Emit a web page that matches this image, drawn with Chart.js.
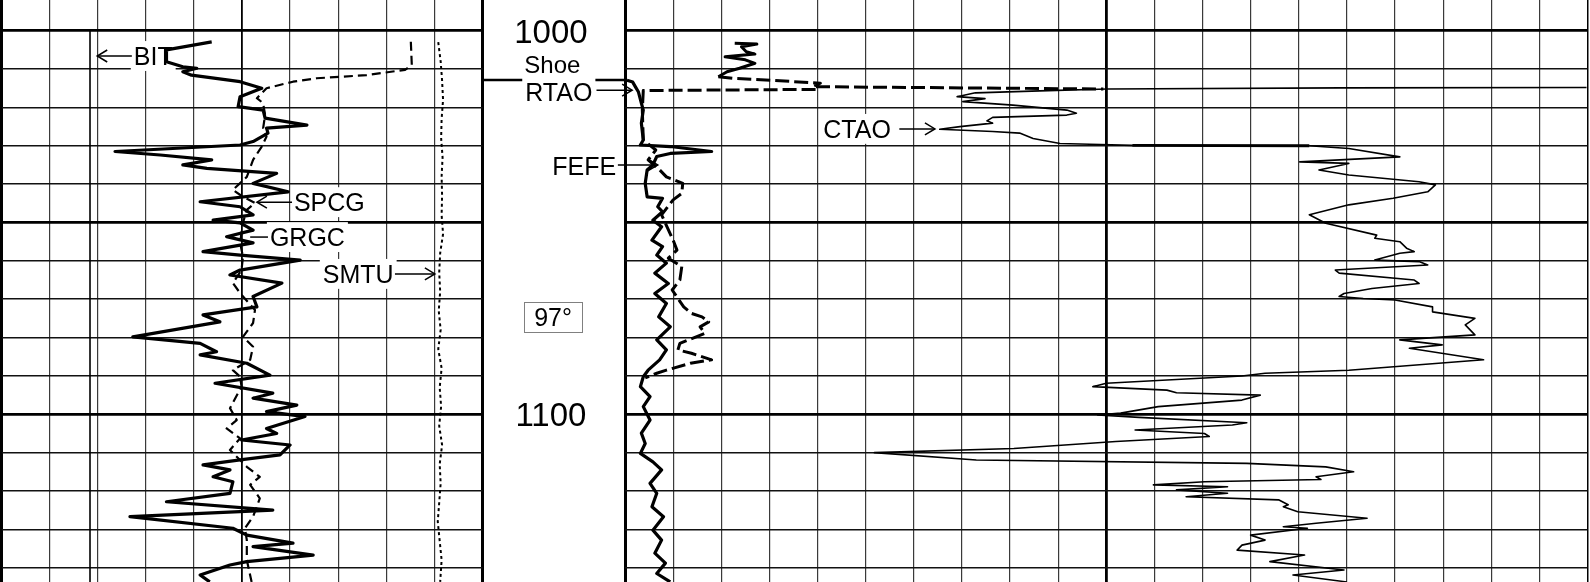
<!DOCTYPE html>
<html>
<head>
<meta charset="utf-8">
<script src="https://cdn.jsdelivr.net/npm/chart.js@4.4.1/dist/chart.umd.min.js"></script>
<style>
  html, body { margin: 0; padding: 0; background: #fff; }
  #wrap { position: relative; width: 1590px; height: 582px; overflow: hidden; background: #fff; }
  #wrap canvas { position: absolute; left: 0; top: 0; }
</style>
</head>
<body>
<div id="wrap">
  <canvas id="leftTrack" width="1590" height="582"></canvas>
  <canvas id="depthTrack" width="1590" height="582"></canvas>
  <canvas id="rightTrack" width="1590" height="582"></canvas>
</div>
<script>
// depth window (m)
const depthTop = 992.0;
const depthBottom = 1143.72;
const depthTicks = [1000, 1010, 1020, 1030, 1040, 1050, 1060, 1070, 1080, 1090, 1100, 1110, 1120, 1130, 1140];
const depthLabels = [1000, 1100];
const shoeDepth = 1012.85;
const holeAngle = '97°';

// track grid divisions (0-100 across each track)
const leftGrid = [0, 10, 20, 30, 40, 50, 60, 70, 80, 90, 100];
const rightGrid = [0, 5, 10, 15, 20, 25, 30, 35, 40, 45, 50, 55, 60, 65, 70, 75, 80, 85, 90, 95, 100];

// left track curves
const grgcDepth = [1002.9,1005.0,1008.1,1009.4,1009.8,1010.7,1011.6,1013.3,1015.0,1017.2,
  1019.8,1020.7,1022.8,1024.6,1025.4,1026.7,1028.9,1029.8,1031.5,1032.4,
  1033.7,1035.0,1035.9,1037.2,1039.8,1042.0,1044.6,1045.9,1048.0,1049.4,
  1050.1,1052.0,1053.7,1055.3,1057.6,1058.5,1059.8,1062.4,1063.7,1065.8,
  1069.3,1072.0,1074.1,1075.9,1079.8,1081.5,1083.7,1084.5,1086.7,1089.8,
  1091.9,1094.5,1095.8,1097.6,1099.3,1100.6,1103.7,1105.0,1106.7,1108.0,
  1110.6,1111.9,1113.2,1114.5,1116.3,1117.6,1120.6,1122.8,1125.0,1126.7,
  1129.7,1131.5,1133.6,1134.5,1136.7,1138.4,1139.3,1141.9,1143.7];
const grgcValue = [43.7,34.3,34.3,37.7,40.6,37.7,39.5,49.6,54.1,49.6,
  49.2,54.4,54.8,63.5,55.1,55.4,52.3,49.6,23.6,33.0,
  43.7,37.7,42.7,57.2,52.3,59.6,41.3,49.6,52.3,44.0,
  49.6,52.3,46.8,52.3,41.9,49.6,62.1,49.6,47.5,58.3,
  52.3,53.1,41.9,45.4,27.3,41.3,44.7,41.3,51.0,55.8,
  44.4,56.4,52.3,61.4,55.1,63.1,55.1,57.2,49.9,60.0,
  57.9,49.6,41.9,47.5,44.0,48.1,47.5,34.3,56.4,26.7,
  48.1,51.0,60.6,52.3,64.8,51.0,47.5,41.3,43.3];

const spcgDepth = [1002.9,1008.9,1010.2,1011.6,1012.4,1013.3,1015.0,1017.6,1018.9,1022.0,
  1025.4,1027.6,1030.2,1033.7,1038.1,1041.5,1043.3,1044.9,1046.7,1050.1,
  1055.3,1058.9,1062.4,1065.8,1068.4,1072.8,1076.2,1079.8,1082.4,1085.8,
  1088.5,1090.2,1092.8,1098.4,1101.5,1103.7,1106.3,1109.3,1113.7,1116.3,
  1118.4,1121.9,1126.7,1129.7,1132.8,1138.0,1143.7];
const spcgValue = [85.1,85.3,83.9,75.9,65.5,60.6,55.1,53.1,54.4,54.8,
  54.4,55.1,54.1,52.3,51.0,48.1,50.2,52.7,51.0,50.2,
  49.6,50.2,49.9,48.1,49.6,52.7,52.3,50.2,52.3,51.7,
  48.1,49.6,49.9,47.5,48.9,46.8,49.6,47.5,51.0,53.7,
  51.7,53.7,52.3,50.6,51.0,51.0,52.0];

const smtuDepth = [1003,1008,1013,1018,1023,1028,1033,1038,1043,1048,
  1053,1058,1063,1068,1073,1078,1083,1088,1093,1098,
  1103,1108,1113,1118,1123,1128,1133,1138,1143.7];
const smtuValue = [90.8,91.3,91.6,91.8,91.5,91.4,91.7,91.5,91.6,91.5,
  91.8,91.2,91.0,91.2,90.9,91.3,90.8,91.5,91.1,91.4,
  91.0,91.6,91.1,91.3,91.0,90.7,91.1,91.5,91.2];

const bitDepth = [1000, 1143.7];
const bitValue = [18.4, 18.4];

// right track curves
const rtaoDepth = [1012.9,1013.4,1014.7,1016.0,1018.9,1020.7,1024.1,1028.5,1029.8,1030.2,
  1031.5,1032.0,1032.8,1035.0,1036.3,1039.8,1043.3,1043.7,1045.9,1047.2,
  1049.4,1051.1,1054.6,1056.3,1058.5,1060.6,1063.2,1065.9,1068.5,1071.1,
  1074.6,1077.2,1080.6,1083.2,1085.8,1088.5,1090.2,1092.8,1095.4,1098.0,
  1101.5,1104.9,1107.6,1110.2,1112.4,1114.5,1118.0,1120.6,1124.1,1126.7,
  1130.2,1132.8,1136.2,1138.8,1141.5,1143.7];
const rtaoValue = [0.2,0.8,1.1,1.4,1.7,1.9,1.7,1.9,1.6,4.7,
  9.0,4.7,3.3,2.9,2.3,2.1,2.3,3.9,3.4,3.9,
  2.9,3.8,2.8,3.9,3.3,4.3,3.1,4.5,3.1,4.3,
  3.5,4.7,3.3,4.3,3.6,2.4,1.9,1.6,2.6,1.9,
  2.6,1.7,2.1,1.6,2.9,3.8,2.6,3.3,2.8,4.0,
  2.9,3.8,3.1,4.2,3.3,4.7];

const fefeDepth = [1003.3,1003.5,1004.2,1005.5,1006.1,1006.8,1007.6,1008.5,1009.8,1010.7,
  1012.0,1012.4,1012.9,1013.7,1014.6,1015.2,1015.3,
  1015.3,1015.6,1020.7,1028.5,1031.1,1033.7,1036.3,1038.1,1039.8,1042.4,
  1044.1,1048.0,1054.6,1057.2,1059.3,1061.5,1065.0,1067.6,1072.0,1073.7,
  1074.6,1075.9,1077.2,1078.9,1081.5,1083.2,1084.1,1085.8,1086.7,1088.5,
  1089.3,1090.5];
const fefeValue = [11.4,13.7,12.1,12.6,13.5,10.4,12.5,13.5,11.9,10.6,
  9.7,11.2,15.1,20.3,19.5,49.7,null,
  19.8,1.9,1.8,1.9,3.2,2.4,3.6,4.3,6.0,5.9,
  5.0,3.8,5.0,5.4,4.5,5.9,5.7,4.9,6.1,6.9,
  8.0,8.7,7.8,8.3,5.7,5.5,6.9,9.0,6.8,4.3,
  3.3,2.1];

const ctaoDepth = [1014.8,1014.9,1015.2,1015.7,1016.2,1017.2,1017.7,1018.5,1019.4,1020.7,
  1021.5,1022.0,1022.6,1023.5,1024.1,1025.0,1025.7,1026.3,1026.7,1028.1,
  1029.4,1029.6,1029.9,1030.0,1030.7,1032.9,1034.2,1034.6,1036.3,1037.6,
  1039.4,1040.2,1042.0,1043.7,1045.4,1048.0,1050.2,1053.3,1054.1,1055.0,
  1056.7,1057.6,1058.0,1059.8,1060.2,1061.1,1062.4,1063.2,1065.0,1065.9,
  1067.2,1068.5,1069.3,1069.8,1070.2,1072.0,1073.3,1075.0,1076.7,1079.3,
  1080.6,1081.9,1082.8,1085.8,1088.5,1089.3,1090.0,1091.9,1092.8,1093.7,
  1094.4,1095.0,1096.3,1098.0,1099.7,1100.2,1100.8,1102.2,1102.8,1104.1,
  1105.0,1105.8,1107.1,1108.9,1110.0,1111.9,1112.8,1113.7,1115.0,1116.3,
  1117.0,1117.6,1118.4,1118.9,1119.7,1120.6,1121.5,1122.3,1123.6,1124.1,
  1125.4,1127.1,1128.4,1129.3,1129.7,1131.5,1132.8,1134.1,1135.4,1136.7,
  1138.4,1140.6,1141.9,1143.7];
const ctaoValue = [99.9,74.3,50.1,43.1,36.4,34.5,37.4,35.1,40.3,45.9,
  46.9,45.9,38.2,37.6,38.2,34.8,32.7,38.2,41.0,42.4,
  45.2,48.3,52.7,71.1,75.2,80.5,70.1,75.2,72.1,75.2,
  82.5,84.2,83.4,79.8,75.2,71.1,72.8,78.1,77.9,80.5,
  81.2,82.0,80.5,77.9,82.5,83.4,73.8,74.2,82.0,82.5,
  77.6,74.7,74.2,76.7,80.0,83.9,83.9,88.3,87.3,88.3,
  80.5,84.9,81.5,89.2,75.2,66.5,64.1,50.0,48.6,56.3,
  57.3,66.0,64.1,55.4,51.5,49.1,53.4,64.6,63.1,53.0,
  60.2,60.7,51.0,40.4,25.9,36.5,64.6,72.8,75.7,71.8,
  72.3,60.2,54.9,62.6,57.3,62.6,58.3,67.9,68.9,68.4,
  69.9,77.1,71.8,68.4,70.9,65.0,66.5,64.1,63.6,70.6,
  67.0,74.7,69.4,75.0];

function points(depths, values) {
  return depths.map((d, i) => ({ x: values[i], y: d }));
}

const labelFont = size => size + 'px "Liberation Sans", Arial, sans-serif';

function drawArrow(ctx, x1, x2, py, head) {
  ctx.beginPath();
  ctx.moveTo(x1, py);
  ctx.lineTo(x2, py);
  ctx.stroke();
  if (head) {
    const dir = Math.sign(x2 - x1);
    ctx.beginPath();
    ctx.moveTo(x2 - dir * 10, py - 6);
    ctx.lineTo(x2, py);
    ctx.lineTo(x2 - dir * 10, py + 6);
    ctx.stroke();
  }
}

// labels and arrows, placed in track units and depth
function notesPlugin(id, hook, notes) {
  return {
    id: id,
    [hook](chart) {
      const ctx = chart.ctx;
      const xs = chart.scales.x, ys = chart.scales.y;
      ctx.save();
      notes.forEach(n => {
        const size = n.size || 25;
        ctx.font = labelFont(size);
        const w = ctx.measureText(n.text).width;
        const cy = ys.getPixelForValue(n.depth);
        const left = n.center !== undefined ? xs.getPixelForValue(n.center) - w / 2 : xs.getPixelForValue(n.at);
        const cap = size * 0.716;
        if (n.bg) {
          ctx.fillStyle = '#fff';
          ctx.fillRect(left - 3, cy - cap / 2 - 6, w + 6, cap + 12);
        }
        if (n.box) {
          ctx.strokeStyle = '#808080';
          ctx.lineWidth = 1;
          ctx.strokeRect(Math.round(left - 10) + 0.5, Math.round(cy - 15) + 0.5, Math.round(w + 20), 30);
        }
        ctx.fillStyle = '#000';
        ctx.fillText(n.text, left, cy + cap / 2);
        ctx.strokeStyle = '#000';
        ctx.lineWidth = 1.5;
        const ay = ys.getPixelForValue(n.arrowDepth !== undefined ? n.arrowDepth : n.depth);
        if (n.arrow) drawArrow(ctx, xs.getPixelForValue(n.arrow[0]), xs.getPixelForValue(n.arrow[1]), ay, true);
        if (n.line) drawArrow(ctx, xs.getPixelForValue(n.line[0]), xs.getPixelForValue(n.line[1]), ay, false);
      });
      ctx.restore();
    }
  };
}

function depthAxis(show) {
  return {
    type: 'linear',
    reverse: true,
    min: depthTop,
    max: depthBottom,
    display: show,
    afterBuildTicks: axis => { axis.ticks = depthTicks.map(v => ({ value: v })); },
    ticks: { display: false },
    grid: {
      drawTicks: false,
      color: c => c.tick && c.tick.value % 50 === 0 ? '#000' : '#111',
      lineWidth: c => c.tick && c.tick.value % 50 === 0 ? 2.8 : 1.6
    },
    border: { display: false }
  };
}

function trackAxis(grid, midWidth, rightEdgeWidth) {
  return {
    type: 'linear',
    min: 0,
    max: 100,
    afterBuildTicks: axis => { axis.ticks = grid.map(v => ({ value: v })); },
    ticks: { display: false },
    grid: {
      drawTicks: false,
      color: c => {
        const v = c.tick ? c.tick.value : -1;
        return (v === 0 || v === 50 || v === 100) ? '#000' : '#3a3a3a';
      },
      lineWidth: c => {
        const v = c.tick ? c.tick.value : -1;
        if (v === 0) return 3;
        if (v === 100) return rightEdgeWidth;
        if (v === 50) return midWidth;
        return 1.2;
      }
    },
    border: { display: false }
  };
}

function curve(label, data, width, dash, extra) {
  return Object.assign({
    label: label,
    data: data,
    showLine: true,
    borderColor: '#000',
    borderWidth: width,
    borderDash: dash,
    borderJoinStyle: 'round',
    borderCapStyle: 'butt',
    pointRadius: 0,
    tension: 0,
    fill: false
  }, extra || {});
}

const commonOptions = (padding, scales) => ({
  responsive: false,
  animation: false,
  devicePixelRatio: 1,
  events: [],
  layout: { padding: padding },
  plugins: { legend: { display: false }, tooltip: { enabled: false } },
  scales: scales
});

// left track: GR, SP, resistivity (SMTU), bit size
new Chart(document.getElementById('leftTrack'), {
  type: 'scatter',
  data: {
    datasets: [
      curve('BIT', points(bitDepth, bitValue), 1.6, []),
      curve('SMTU', points(smtuDepth, smtuValue), 2, [3, 3]),
      curve('SPCG', points(spcgDepth, spcgValue), 2.2, [9, 5]),
      curve('GRGC', points(grgcDepth, grgcValue), 3.2, [])
    ]
  },
  options: commonOptions({ left: 1.5, right: 1107.5, top: 0, bottom: 0 }, {
    x: trackAxis(leftGrid, 1.8, 3),
    y: depthAxis(true)
  }),
  plugins: [notesPlugin('leftNotes', 'beforeDatasetsDraw', [
    { text: 'BIT', at: 27.5, depth: 1006.6, bg: true, arrow: [27.1, 19.9] },
    { text: 'SPCG', at: 60.8, depth: 1044.7, bg: true, arrow: [60.4, 53.1] },
    { text: 'GRGC', at: 55.8, depth: 1053.8, bg: true, line: [51.7, 55.4] },
    { text: 'SMTU', at: 66.8, depth: 1063.4, bg: true, arrow: [81.8, 90.1] }
  ])]
});

// depth track
new Chart(document.getElementById('depthTrack'), {
  type: 'scatter',
  data: {
    datasets: [
      curve('Shoe', points([shoeDepth, shoeDepth], [0, 1]), 2.4, [])
    ]
  },
  options: commonOptions({ left: 482.5, right: 965, top: 0, bottom: 0 }, {
    x: { type: 'linear', min: 0, max: 1, display: false },
    y: depthAxis(false)
  }),
  plugins: [notesPlugin('depthNotes', 'afterDatasetsDraw', [
    { text: String(depthLabels[0]), center: 0.48, depth: depthLabels[0], size: 33 },
    { text: 'Shoe', center: 0.49, depth: 1008.9, size: 24 },
    { text: 'RTAO', at: 0.30, depth: 1016.1, bg: true, arrow: [0.80, 1.05], arrowDepth: 1015.5 },
    { text: 'FEFE', at: 0.49, depth: 1035.3, arrow: [0.95, 1.23], arrowDepth: 1035.0 },
    { text: holeAngle, center: 0.495, depth: 1074.6, size: 25, box: true },
    { text: String(depthLabels[1]), center: 0.48, depth: depthLabels[1], size: 33 }
  ])]
});

// right track: resistivity, conductivity, FE
new Chart(document.getElementById('rightTrack'), {
  type: 'scatter',
  data: {
    datasets: [
      curve('CTAO', points(ctaoDepth, ctaoValue), 1.6, [], {
        segment: { borderWidth: c => c.p0DataIndex === 22 ? 2.8 : undefined }
      }),
      curve('FEFE', points(fefeDepth, fefeValue), 3, [14, 5], {
        segment: { borderDash: c => c.p0DataIndex < 10 ? [] : undefined }
      }),
      curve('RTAO', points(rtaoDepth, rtaoValue), 3.2, [])
    ]
  },
  options: commonOptions({ left: 625, right: 2.5, top: 0, bottom: 0 }, {
    x: trackAxis(rightGrid, 2.8, 1.5),
    y: depthAxis(true)
  }),
  plugins: [notesPlugin('rightNotes', 'beforeDatasetsDraw', [
    { text: 'CTAO', at: 20.6, depth: 1025.6, bg: true, arrow: [28.5, 32.2] }
  ])]
});
</script>
</body>
</html>
